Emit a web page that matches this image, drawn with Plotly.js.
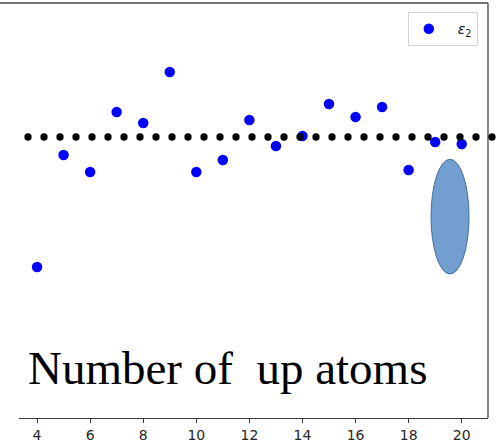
<!DOCTYPE html>
<html>
<head>
<meta charset="utf-8">
<script src="https://cdn.plot.ly/plotly-3.0.1.min.js"></script>
<style>
  html, body { margin: 0; padding: 0; background: #ffffff; }
  #chart { width: 499px; height: 446px; }
</style>
</head>
<body>
<div id="chart"></div>
<script>
// Number of "up" atoms in the configuration
const upAtoms = [4, 5, 6, 7, 8, 9, 10, 11, 12, 13, 14, 15, 16, 17, 18, 19, 20];
// epsilon_2 for each configuration (arbitrary units, reference level = 0)
const eps2 = [-1.30, -0.18, -0.35, 0.25, 0.14, 0.65, -0.35, -0.23, 0.17,
              -0.09, 0.01, 0.33, 0.20, 0.30, -0.33, -0.05, -0.07];
// horizontal reference level drawn as the dotted line
const refLevel = 0.0;
const xTicks = [4, 6, 8, 10, 12, 14, 16, 18, 20];

const frameColor = '#3a3a3a';

const traces = [{
  type: 'scatter',
  mode: 'markers',
  x: upAtoms,
  y: eps2,
  name: '\u00a0\u00a0<i>ε</i><sub>2</sub>',
  marker: { color: '#0000ff', size: 10.5 },
  showlegend: true
}];

const layout = {
  width: 499,
  height: 446,
  margin: { l: 19, r: 11, t: 3, b: 28, pad: 0 },
  paper_bgcolor: '#ffffff',
  plot_bgcolor: '#ffffff',
  showlegend: true,
  xaxis: {
    range: [3.32, 20.99],
    tickvals: xTicks,
    ticktext: xTicks.map(String),
    ticks: 'outside',
    ticklen: 4,
    tickwidth: 1,
    tickcolor: frameColor,
    showline: true,
    linecolor: frameColor,
    linewidth: 1.2,
    mirror: false,
    showgrid: false,
    zeroline: false,
    tickfont: { family: 'DejaVu Sans', size: 14, color: '#262626' }
  },
  yaxis: {
    range: [-2.81, 1.34],
    visible: false,
    showgrid: false,
    zeroline: false
  },
  legend: {
    x: 0.829, y: 0.978, xanchor: 'left', yanchor: 'top',
    bgcolor: '#ffffff',
    bordercolor: '#d4d4d4',
    borderwidth: 1,
    font: { family: 'DejaVu Sans', size: 14, color: '#222222' }
  },
  shapes: [
    // top frame line
    { type: 'line', xref: 'paper', yref: 'paper', x0: -0.0405, x1: 1, y0: 1, y1: 1,
      line: { color: '#444444', width: 1.6 } },
    // right frame line
    { type: 'line', xref: 'paper', yref: 'paper', x0: 1, x1: 1, y0: 0, y1: 1,
      line: { color: frameColor, width: 1.2 } },
    // dotted reference level
    { type: 'line', xref: 'paper', yref: 'y', x0: 0.0192, x1: 1.019, y0: refLevel, y1: refLevel,
      line: { color: '#000000', width: 7.3, dash: '0px,16px' } },
    // highlight ellipse
    { type: 'circle', xref: 'paper', yref: 'paper',
      x0: 0.8785, x1: 0.9595, y0: 0.347, y1: 0.6234,
      fillcolor: 'rgb(114,159,207)',
      line: { color: 'rgb(65,108,160)', width: 1 } }
  ],
  annotations: [{
    xref: 'paper', yref: 'paper',
    x: 0.015, y: 0.121,
    xanchor: 'left', yanchor: 'middle',
    showarrow: false,
    text: 'Number of\u00a0 up atoms',
    font: { family: 'Liberation Serif', size: 47, color: '#000000' }
  }]
};

Plotly.newPlot('chart', traces, layout, { displayModeBar: false, staticPlot: true })
  .then(function () {
    // round caps turn the zero-length dashes into dots
    document.querySelectorAll('.shapelayer path').forEach(function (p) {
      if ((p.style.strokeDasharray || '').indexOf('16') !== -1) {
        p.style.strokeLinecap = 'round';
      }
    });
  });
</script>
</body>
</html>
